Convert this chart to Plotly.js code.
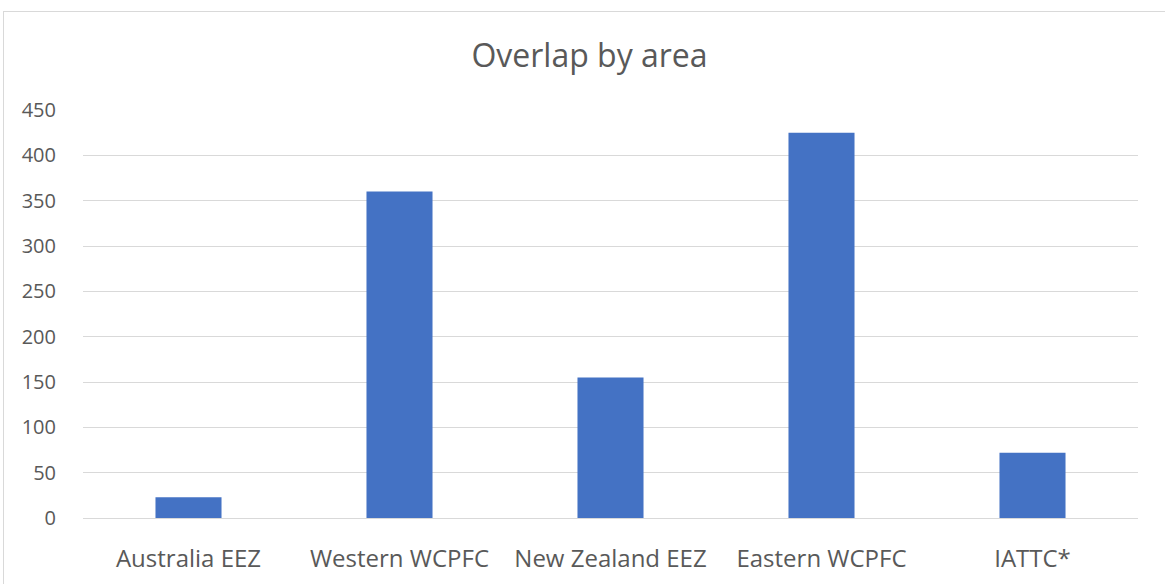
<!DOCTYPE html>
<html>
<head>
<meta charset="utf-8">
<script src="https://cdn.plot.ly/plotly-3.0.1.min.js"></script>
<style>
  body { margin: 0; background: #fff; }
  #frame { position: absolute; left: 3px; top: 11px; width: 1170px; height: 590px; border: 1px solid #d9d9d9; }
  #chart { position: absolute; left: 0; top: 0; width: 1165px; height: 584px; }
</style>
</head>
<body>
<div id="frame"></div>
<div id="chart"></div>
<script>
// categories and values
var regions = ['Australia EEZ', 'Western WCPFC', 'New Zealand EEZ', 'Eastern WCPFC', 'IATTC*'];
var overlap = [23, 360, 155, 425, 72];

var trace = {
  x: regions,
  y: overlap,
  type: 'bar',
  marker: { color: '#4472c4' },
  hoverinfo: 'x+y'
};

var layout = {
  width: 1165,
  height: 584,
  margin: { l: 83, r: 27, t: 110, b: 66 },
  paper_bgcolor: 'rgba(0,0,0,0)',
  plot_bgcolor: 'rgba(0,0,0,0)',
  bargap: 0.687,
  showlegend: false,
  font: { family: 'Open Sans, sans-serif', color: '#595959', size: 20 },
  title: {
    text: 'Overlap by area',
    font: { family: 'Open Sans, sans-serif', size: 32, color: '#595959' },
    x: 0.506,
    xanchor: 'center',
    y: 0.905,
    yanchor: 'middle'
  },
  xaxis: {
    showgrid: false,
    showline: false,
    zeroline: false,
    ticks: 'outside',
    ticklen: 19,
    tickcolor: 'rgba(0,0,0,0)',
    tickfont: { size: 24, color: '#595959' }
  },
  yaxis: {
    range: [0, 450],
    dtick: 50,
    showgrid: true,
    gridcolor: '#d9d9d9',
    gridwidth: 1,
    zeroline: true,
    zerolinecolor: '#d9d9d9',
    zerolinewidth: 1,
    showline: false,
    ticks: 'outside',
    ticklen: 22,
    tickcolor: 'rgba(0,0,0,0)',
    tickfont: { size: 20, color: '#595959' }
  }
};

Plotly.newPlot('chart', [trace], layout, { displayModeBar: false, staticPlot: true });
</script>
</body>
</html>
